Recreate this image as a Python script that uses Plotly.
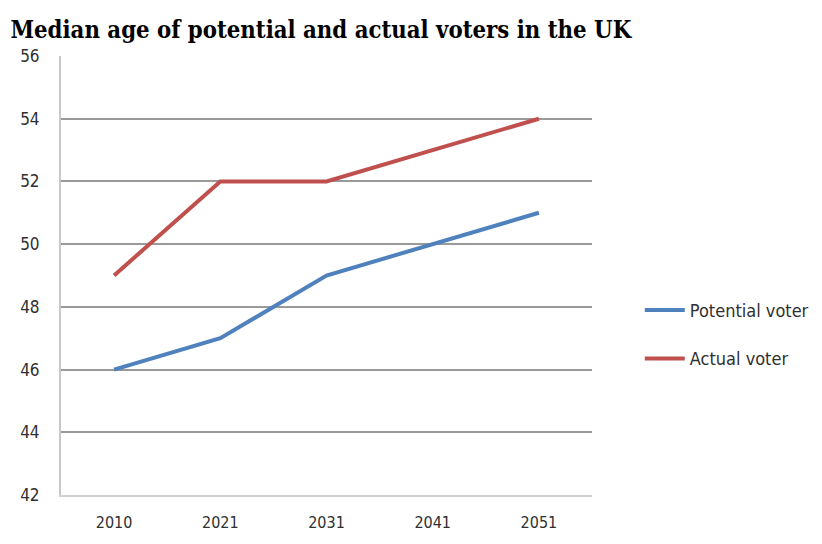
import plotly.graph_objects as go

years = ["2010", "2021", "2031", "2041", "2051"]
potential_voter = [46, 47, 49, 50, 51]
actual_voter = [49, 52, 52, 53, 54]
y_ticks = [42, 44, 46, 48, 50, 52, 54, 56]

fig = go.Figure()
fig.add_trace(go.Scatter(x=years, y=potential_voter, mode="lines", name="Potential voter",
                         line=dict(color="#4F81BD", width=4), legendgroup="a"))
fig.add_trace(go.Scatter(x=years, y=actual_voter, mode="lines", name="Actual voter",
                         line=dict(color="#C0504D", width=4), legendgroup="b"))

fig.update_layout(
    width=822, height=544,
    margin=dict(l=50, r=238, t=48, b=57),
    paper_bgcolor="white", plot_bgcolor="white",
    title=dict(text="<b>Median age of potential and actual voters in the UK</b>",
               x=0.003, xanchor="left", y=0.96, yanchor="middle",
               font=dict(family="DejaVu Serif Condensed", size=23.7, color="black")),
    legend=dict(x=1.09, y=0.366, xanchor="left", yanchor="middle",
                font=dict(family="DejaVu Sans Condensed", size=18, color="#303030"),
                tracegroupgap=22, itemwidth=40, bgcolor="rgba(0,0,0,0)"),
    showlegend=True,
)
fig.update_xaxes(type="category", range=[-0.5, 4.5], showgrid=False,
                 showline=True, linecolor="#d0d0d0", linewidth=2,
                 ticks="", ticklabelstandoff=12,
                 tickfont=dict(family="DejaVu Sans Condensed", size=16, color="#303030"))
fig.update_yaxes(range=[42, 56], tickvals=y_ticks, showgrid=True, gridcolor="#9a9a9a",
                 gridwidth=1.5, showline=True, linecolor="#c8c8c8", linewidth=2,
                 zeroline=False, ticks="", ticklabelstandoff=16,
                 tickfont=dict(family="DejaVu Sans Condensed", size=17, color="#303030"))

fig.write_html("out.html")
